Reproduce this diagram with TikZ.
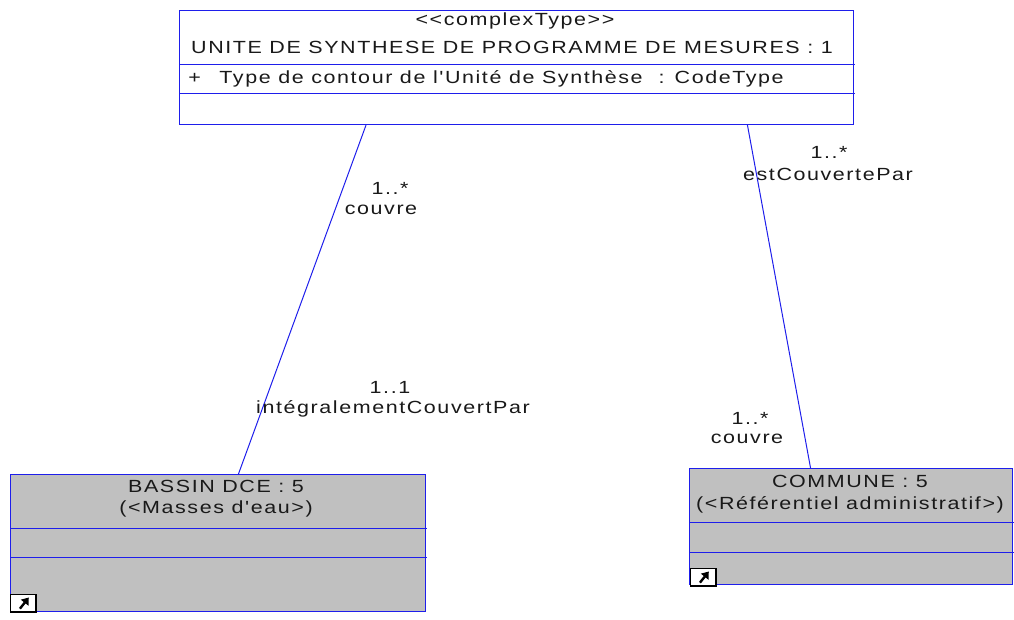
\documentclass[tikz,border=0pt]{standalone}
\usepackage{fontspec}
\setmainfont{Liberation Sans}
\newfontfamily\lsfont[LetterSpace=9,FakeStretch=1.22]{Liberation Sans}
\usetikzlibrary{calc,arrows.meta}
\definecolor{umlblue}{RGB}{30,30,235}
\definecolor{umlgrey}{RGB}{192,192,192}
\tikzset{
  umlbox/.style={draw=umlblue,line width=0.85pt,anchor=north west,inner sep=0pt,minimum width=#1},
  connector/.style={draw=umlblue,line width=0.75pt},
  divider/.style={draw=umlblue,line width=0.85pt},
  lbl/.style={font=\fontsize{13.2pt}{15pt}\lsfont,inner sep=0pt,text=black!90},
  iconbox/.style={draw=black,fill=white,line width=0.6pt,anchor=north west,minimum width=19pt,minimum height=13pt,inner sep=0pt},
  iconarrow/.style={draw=black,line width=1.8pt,-{Triangle[length=5pt,width=7pt]}}
}
\begin{document}
\begin{tikzpicture}[x=0.75pt,y=-0.75pt]
\useasboundingbox (0,0) rectangle (1014,619);
% boxes
\node[umlbox=505.5pt,minimum height=85.5pt] (top) at (179,10) {};
\node[umlbox=311.25pt,minimum height=102.75pt,fill=umlgrey] (bassin) at (10,474) {};
\node[umlbox=242.25pt,minimum height=87pt,fill=umlgrey] (commune) at (689,468) {};
% connectors
\draw[connector] ($(top.south west)!0.277!(top.south east)$) -- ($(bassin.north west)!0.549!(bassin.north east)$);
\draw[connector] ($(top.south west)!0.842!(top.south east)$) -- ($(commune.north west)!0.375!(commune.north east)$);
% dividers
\draw[divider] (179,64.5) -- (855,64.5);
\draw[divider] (179,93.5) -- (855,93.5);
\draw[divider] (10,528.5) -- (427,528.5);
\draw[divider] (10,557.5) -- (427,557.5);
\draw[divider] (689,522.5) -- (1014,522.5);
\draw[divider] (689,552.5) -- (1014,552.5);
% texts
\node[lbl] (t1) at (515,21) {<<complexType>>};
\node[lbl] (t2) at (512,47) {UNITE DE SYNTHESE DE PROGRAMME DE MESURES : 1};
\node[lbl,anchor=west] (t3) at (188,79) {+\hspace{14pt}Type de contour de l'Unité de Synthèse\hspace{12pt}: CodeType};
\node[lbl] (b1) at (216,486) {BASSIN DCE : 5};
\node[lbl] (b2) at (216,509) {(<Masses d'eau>)};
\node[lbl] (c1) at (850,481) {COMMUNE : 5};
\node[lbl] (c2) at (850,505) {(<Référentiel administratif>)};
\node[lbl] (l1) at (390,188) {1..*};
\node[lbl] (l2) at (381,210) {couvre};
\node[lbl] (l3) at (390,387) {1..1};
\node[lbl] (l4) at (393,409) {intégralementCouvertPar};
\node[lbl] (l5) at (829,152) {1..*};
\node[lbl] (l6) at (828,174) {estCouvertePar};
\node[lbl] (l7) at (750,418) {1..*};
\node[lbl] (l8) at (747,439) {couvre};
% shortcut icons
\node[iconbox] (i1) at (10,594) {};
\draw[black,line width=1.5pt] (i1.north east) -- (i1.south east) -- (i1.south west);
\draw[iconarrow] ($(i1.south west)!0.38!(i1.south east)+(0,-3.5)$) -- ($(i1.north west)!0.72!(i1.north east)+(0,3.5)$);
\node[iconbox] (i2) at (690,568) {};
\draw[black,line width=1.5pt] (i2.north east) -- (i2.south east) -- (i2.south west);
\draw[iconarrow] ($(i2.south west)!0.38!(i2.south east)+(0,-3.5)$) -- ($(i2.north west)!0.72!(i2.north east)+(0,3.5)$);
\end{tikzpicture}
\end{document}
